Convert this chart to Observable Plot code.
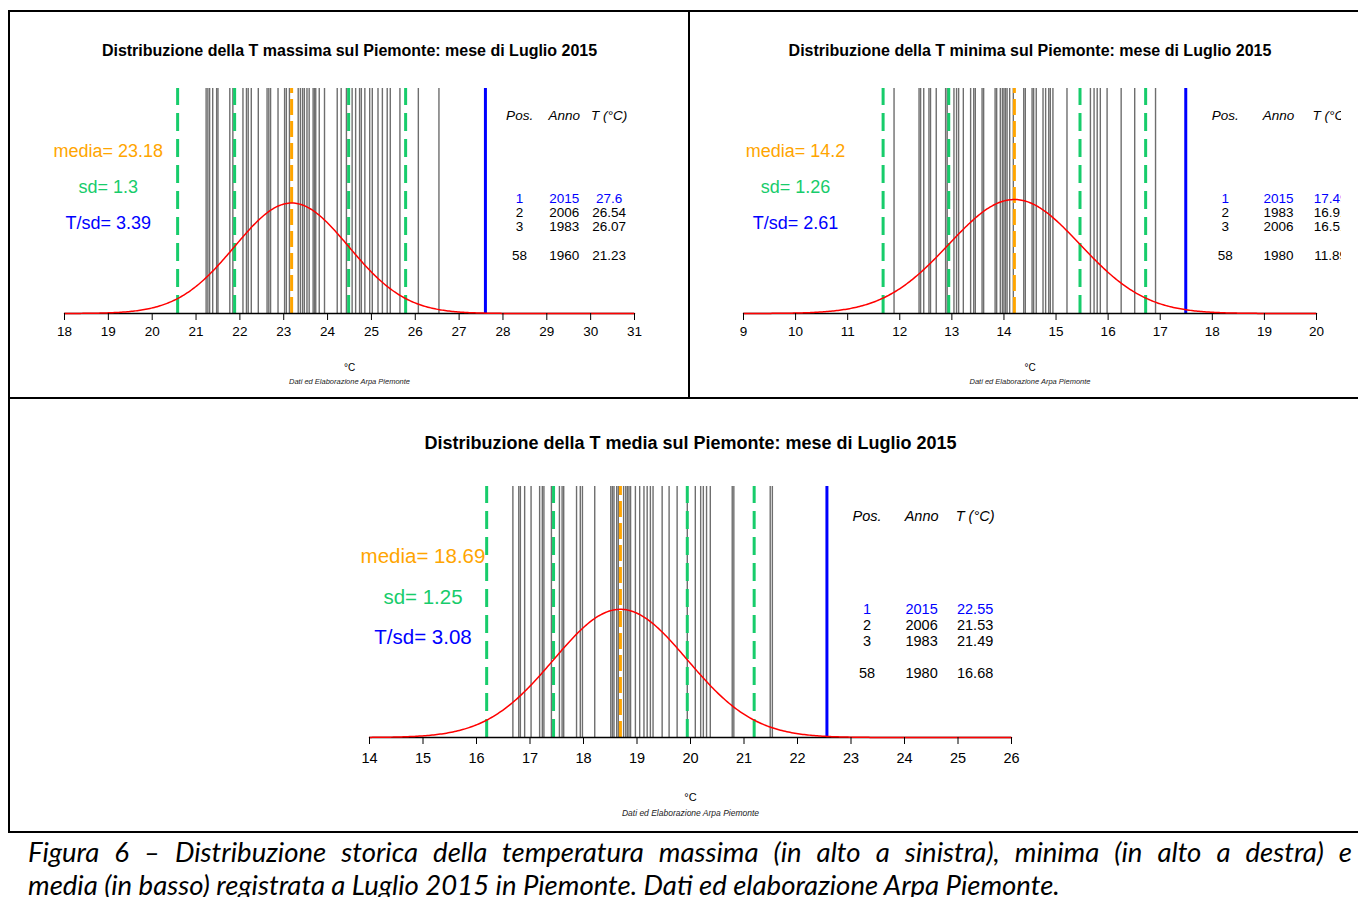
<!DOCTYPE html>
<html><head><meta charset="utf-8">
<script src="https://cdn.jsdelivr.net/npm/d3@7"></script>
<script src="https://cdn.jsdelivr.net/npm/@observablehq/plot@0.6"></script>
<style>
html,body{margin:0;padding:0;background:#fff;width:1358px;height:897px;overflow:hidden;}
#root{position:relative;width:1358px;height:897px;font-family:"Liberation Sans",Arial,sans-serif;}
.panel{position:absolute;overflow:hidden;}
.panel svg{overflow:hidden;}
.ln{position:absolute;background:#000;}
.cap{position:absolute;left:28px;width:1324px;font-family:Lato,"Open Sans",sans-serif;font-style:italic;font-size:27.5px;color:#000;white-space:nowrap;line-height:30px;}
.cap.j{text-align:justify;text-align-last:justify;}
</style></head>
<body><div id="root"></div>
<script>
// ---------------- DATA ----------------
const titles = [
  "Distribuzione della T massima sul Piemonte: mese di Luglio 2015",
  "Distribuzione della T minima sul Piemonte: mese di Luglio 2015",
  "Distribuzione della T media sul Piemonte: mese di Luglio 2015"
];
// July values of the historical series (grey lines)
const tmaxValues = [21.23,21.27,21.31,21.38,21.47,21.50,21.77,21.84,22.07,22.15,22.19,22.26,22.42,22.62,22.66,22.70,22.87,23.02,23.06,23.13,23.33,23.38,23.43,23.47,23.53,23.58,23.67,23.70,23.73,23.81,23.93,24.22,24.31,24.43,24.56,24.64,24.73,24.77,24.85,24.96,25.02,25.15,25.25,25.36,25.43,25.65,26.07,26.54];
const tminValues = [11.89,12.37,12.40,12.46,12.56,12.59,12.70,12.88,12.91,13.04,13.09,13.13,13.22,13.36,13.42,13.45,13.58,13.61,13.83,13.86,13.93,13.97,14.00,14.03,14.06,14.11,14.18,14.38,14.41,14.54,14.57,14.62,14.75,14.80,14.86,14.89,14.94,15.21,15.66,15.73,15.79,15.85,15.98,16.25,16.51,16.91];
const tmedValues = [16.68,16.79,16.82,16.90,17.02,17.18,17.23,17.26,17.40,17.55,17.60,17.63,17.87,17.94,17.98,18.21,18.51,18.54,18.57,18.62,18.65,18.75,18.79,18.82,18.85,18.88,18.97,19.05,19.13,19.19,19.25,19.30,19.47,19.60,19.75,19.94,20.09,20.19,20.24,20.30,20.37,20.78,20.81,21.49,21.53];
const means = [23.18, 14.2, 18.69];
const sds = [1.3, 1.26, 1.25];
const tsd = [3.39, 2.61, 3.08];
const value2015 = [27.6, 17.49, 22.55];
const tmaxTicks = [18,19,20,21,22,23,24,25,26,27,28,29,30,31];
const tminTicks = [9,10,11,12,13,14,15,16,17,18,19,20];
const tmedTicks = [14,15,16,17,18,19,20,21,22,23,24,25,26];
const rankPos = ["1","2","3","58"];
const tmaxRankYears = ["2015","2006","1983","1960"];
const tmaxRankT = ["27.6","26.54","26.07","21.23"];
const tminRankYears = ["2015","1983","2006","1980"];
const tminRankT = ["17.49","16.91","16.51","11.89"];
const tmedRankYears = ["2015","2006","1983","1980"];
const tmedRankT = ["22.55","21.53","21.49","16.68"];
const tableHeader = ["Pos.","Anno","T (°C)"];
const axisLabel = "°C";
const credit = "Dati ed Elaborazione Arpa Piemonte";
const captionLines = [
  "Figura 6 – Distribuzione storica della temperatura massima (in alto a sinistra), minima (in alto a destra) e",
  "media (in basso) registrata a Luglio 2015 in Piemonte. Dati ed elaborazione Arpa Piemonte."
];

// ---------------- DRAW ----------------
const YMAX = 0.625;
const GREEN = "#17cc6b", ORANGE = "#ffa500", BLUE = "#0000ff", RED = "#ff0000";

function makePanel(i, values, ticks, years, temps, L) {
  const mean = means[i], sd = sds[i];
  const xmin = ticks[0], xmax = ticks[ticks.length - 1];
  const n = 400;
  const curve = d3.range(n + 1).map(k => {
    const x = xmin + (xmax - xmin) * k / n;
    return {x, y: Math.exp(-0.5 * ((x - mean) / sd) ** 2) / (sd * Math.sqrt(2 * Math.PI))};
  });
  const greens = [mean - 2 * sd, mean - sd, mean + sd, mean + 2 * sd];
  const rows = rankPos.map((p, k) => ({p, yr: years[k], t: temps[k], k}));
  const rowY = [0.32, 0.28, 0.24, 0.16];
  const rowFill = k => k === 0 ? BLUE : "black";
  const fs = L.fs;
  return Plot.plot({
    width: L.w, height: L.h,
    marginLeft: L.ml, marginRight: L.mr, marginTop: L.mt, marginBottom: L.mb,
    x: {domain: [xmin, xmax]},
    y: {domain: [0, YMAX], axis: null},
    style: {fontFamily: "'Liberation Sans', Arial, sans-serif", background: "white", overflow: "hidden"},
    marks: [
      Plot.ruleX(values, {x: d => d, y1: 0, y2: YMAX, stroke: "#6e6e6e", strokeWidth: 1.4}),
      Plot.ruleX(greens, {x: d => d, y1: 0, y2: YMAX, stroke: GREEN, strokeWidth: 3, strokeDasharray: "18,8"}),
      Plot.ruleX([mean], {x: d => d, y1: 0, y2: YMAX, stroke: ORANGE, strokeWidth: 3, strokeDasharray: "16,6"}),
      Plot.ruleX([value2015[i]], {x: d => d, y1: 0, y2: YMAX, stroke: BLUE, strokeWidth: 3}),
      Plot.ruleY([0], {x1: xmin, x2: xmax, stroke: "black", strokeWidth: 1.3}),
      Plot.line(curve, {x: "x", y: "y", stroke: RED, strokeWidth: 1.5}),
      Plot.axisX(ticks, {anchor: "bottom", tickSize: 7, tickPadding: L.tp, fontSize: fs.tick, label: null, stroke: "black", fill: "black"}),
      // left statistics
      Plot.text([`media= ${mean}`], {x: xmin + 1, y: 0.45, fill: ORANGE, fontSize: fs.stat}),
      Plot.text([`sd= ${sd}`], {x: xmin + 1, y: 0.35, fill: GREEN, fontSize: fs.stat}),
      Plot.text([`T/sd= ${tsd[i]}`], {x: xmin + 1, y: 0.25, fill: BLUE, fontSize: fs.stat}),
      // ranking table
      Plot.text(tableHeader, {x: (d, k) => L.cols[k], y: 0.55, fontSize: fs.table, fontStyle: "italic", fill: "black"}),
      Plot.text(rows, {x: L.cols[0], y: d => rowY[d.k], text: "p", fill: d => rowFill(d.k), fontSize: fs.table}),
      Plot.text(rows, {x: L.cols[1], y: d => rowY[d.k], text: "yr", fill: d => rowFill(d.k), fontSize: fs.table}),
      Plot.text(rows, {x: L.cols[2], y: d => rowY[d.k], text: "t", fill: d => rowFill(d.k), fontSize: fs.table}),
      // title and bottom labels
      Plot.text([titles[i]], {frameAnchor: "top", dy: -L.titleDy, fontSize: fs.title, fontWeight: "bold", fill: "black"}),
      Plot.text([axisLabel], {frameAnchor: "bottom", dy: L.unitDy, fontSize: fs.unit, fill: "black"}),
      Plot.text([credit], {frameAnchor: "bottom", dy: L.creditDy, fontSize: fs.credit, fontStyle: "italic", fill: "#222"})
    ]
  });
}

const root = document.getElementById("root");
function place(node, left, top, w, h) {
  const d = document.createElement("div");
  d.className = "panel";
  d.style.left = left + "px"; d.style.top = top + "px";
  d.style.width = w + "px"; d.style.height = h + "px";
  d.appendChild(node);
  root.appendChild(d);
}

const fsTop = {tick: 13.5, stat: 18, table: 13.5, title: 16, unit: 10, credit: 7.5};
const fsBot = {tick: 14.5, stat: 20.5, table: 14.5, title: 18, unit: 11, credit: 8.5};

place(makePanel(0, tmaxValues, tmaxTicks, tmaxRankYears, tmaxRankT,
  {w: 679, h: 386, ml: 54, mr: 55, mt: 76, mb: 85, tp: 6, fs: fsTop, cols: [28.38, 29.4, 30.42], titleDy: 44, unitDy: 57, creditDy: 70}),
  10, 12, 679, 386);
place(makePanel(1, tminValues, tminTicks, tminRankYears, tminRankT,
  {w: 651, h: 386, ml: 53, mr: 25, mt: 76, mb: 85, tp: 6, fs: fsTop, cols: [18.25, 19.27, 20.27], titleDy: 44, unitDy: 57, creditDy: 70}),
  690, 12, 651, 386);
place(makePanel(2, tmedValues, tmedTicks, tmedRankYears, tmedRankT,
  {w: 1348, h: 433, ml: 359, mr: 347, mt: 87, mb: 95, tp: 8, fs: fsBot, cols: [23.3, 24.32, 25.32], titleDy: 50, unitDy: 63, creditDy: 78}),
  10, 399, 1348, 433);

// frame lines
function line(l, t, w, h) {
  const d = document.createElement("div");
  d.className = "ln";
  Object.assign(d.style, {left: l + "px", top: t + "px", width: w + "px", height: h + "px"});
  root.appendChild(d);
}
line(9, 10, 1349, 2);
line(8, 10, 2, 823);
line(688, 10, 2, 389);
line(8, 397, 1350, 2);
line(8, 831, 1350, 2);

// caption
const c1 = document.createElement("div");
c1.className = "cap j"; c1.style.top = "837px"; c1.textContent = captionLines[0];
root.appendChild(c1);
const c2 = document.createElement("div");
c2.className = "cap"; c2.style.top = "870px"; c2.textContent = captionLines[1];
root.appendChild(c2);
</script>
</body></html>
